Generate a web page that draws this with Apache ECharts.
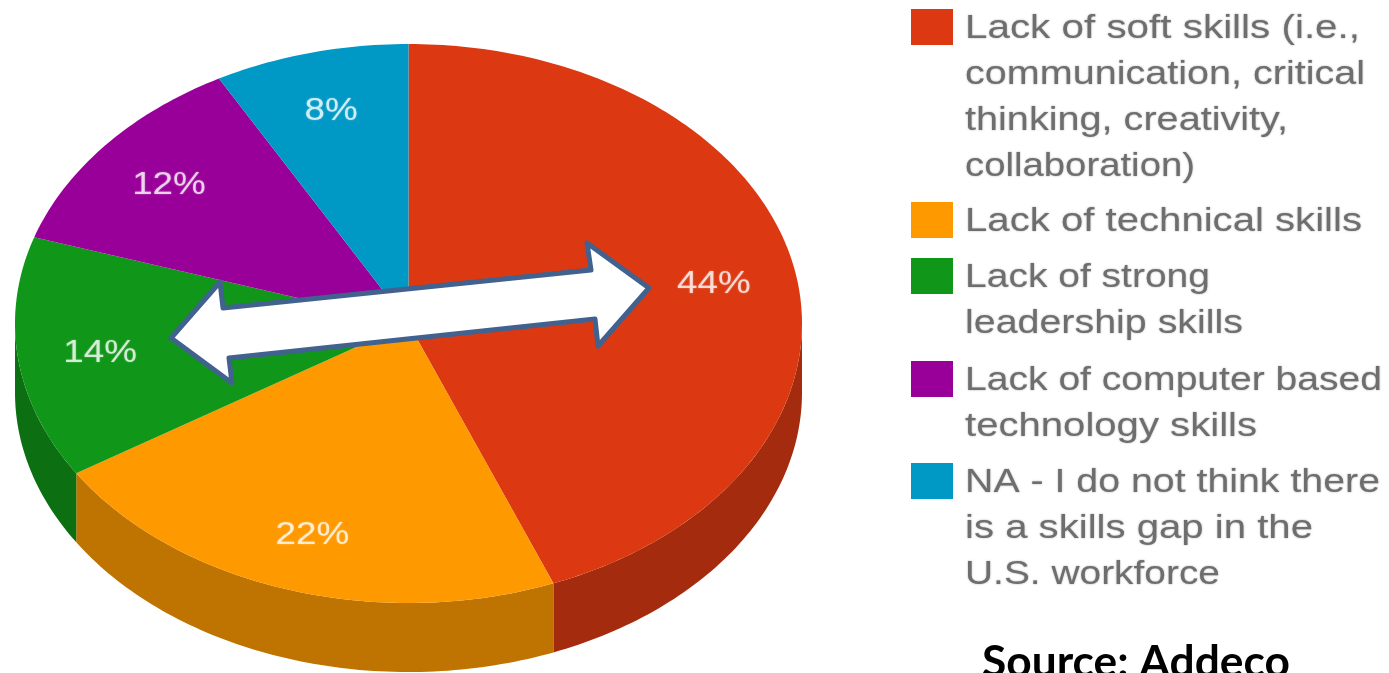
<!DOCTYPE html>
<html>
<head>
<meta charset="utf-8">
<title>Skills gap pie</title>
<style>
  html, body { margin: 0; padding: 0; background: #fff; overflow: hidden; }
  #chart { width: 1389px; height: 673px; }
</style>
<script src="https://cdn.jsdelivr.net/npm/echarts@6/dist/echarts.min.js"></script>
</head>
<body>
<div id="chart"></div>
<script>
const categories = [
  'Lack of soft skills (i.e.,\ncommunication, critical\nthinking, creativity,\ncollaboration)',
  'Lack of technical skills',
  'Lack of strong\nleadership skills',
  'Lack of computer based\ntechnology skills',
  'NA - I do not think there\nis a skills gap in the\nU.S. workforce'
];
const shares = [44, 22, 14, 12, 8];
const topColors = ['#dc3912', '#ff9900', '#109618', '#990099', '#0099c6'];
const sideColors = ['#a52b0e', '#bf7300', '#0c7012', '#730073', '#007395'];
const sourceNote = 'Source: Addeco';

const total = shares.reduce((a, b) => a + b, 0);
const depth = 0.247; // height of the rim, in y axis units
const deg = Math.PI / 180;

// clockwise from 12 o'clock, on the unit circle the axes stretch into an ellipse
function rim(from, to, api, drop) {
  const pts = [];
  const steps = Math.max(2, Math.ceil((to - from) / deg));
  for (let i = 0; i <= steps; i++) {
    const a = from + (to - from) * i / steps;
    pts.push(api.coord([Math.sin(a), Math.cos(a) - drop]));
  }
  return pts;
}

function renderSlice(params, api) {
  const i = params.dataIndex;
  const before = shares.slice(0, i).reduce((a, b) => a + b, 0);
  const start = before / total * 2 * Math.PI;
  const end = (before + api.value(0)) / total * 2 * Math.PI;
  const children = [];

  // only the front half of the rim is visible
  const sideFrom = Math.max(start, Math.PI / 2);
  const sideTo = Math.min(end, Math.PI * 1.5);
  if (sideTo > sideFrom) {
    children.push({
      type: 'polygon',
      shape: { points: rim(sideFrom, sideTo, api, 0).concat(rim(sideFrom, sideTo, api, depth).reverse()) },
      style: { fill: sideColors[i] }
    });
  }

  children.push({
    type: 'polygon',
    shape: { points: [api.coord([0, 0])].concat(rim(start, end, api, 0)) },
    style: { fill: topColors[i] }
  });

  const mid = (start + end) / 2;
  const at = api.coord([0.79 * Math.sin(mid), 0.79 * Math.cos(mid)]);
  children.push({
    type: 'text',
    x: at[0],
    y: at[1] + 2,
    scaleX: 1.15,
    style: {
      text: api.value(0) + '%',
      x: 0,
      y: 0,
      align: 'center',
      verticalAlign: 'middle',
      fill: '#fff',
      opacity: 0.75,
      font: '32px "Liberation Sans", Arial, sans-serif',
      textShadowColor: 'rgba(255,255,255,0.5)',
      textShadowBlur: 2
    }
  });
  return { type: 'group', children };
}

// legend is drawn by hand because the swatch sits on the first line of a wrapped name
const legendTops = [27, 220, 276, 379, 481];
// the source image is stretched unevenly, so each line is fitted to its own width
const lineWidths = [[395, 400, 323, 230], [397], [245, 278], [417, 292], [415, 348, 255]];
const legendFont = '34px "Liberation Sans", Arial, sans-serif';
const measure = document.createElement('canvas').getContext('2d');
measure.font = legendFont;

const legendGraphics = [];
categories.forEach((name, i) => {
  legendGraphics.push({
    type: 'rect',
    shape: { x: 911, y: legendTops[i] - 18, width: 42, height: 36 },
    style: { fill: topColors[i] }
  });
  name.split('\n').forEach((line, j) => {
    legendGraphics.push({
      type: 'text',
      x: 965,
      y: legendTops[i] + j * 46 + 2,
      scaleX: lineWidths[i][j] / measure.measureText(line).width,
      style: {
        text: line,
        x: 0,
        y: 0,
        verticalAlign: 'middle',
        fill: '#6e6e6e',
        font: legendFont,
        textShadowColor: 'rgba(110,110,110,0.6)',
        textShadowBlur: 2
      }
    });
  });
});

const chart = echarts.init(document.getElementById('chart'));
chart.setOption({
  animation: false,
  backgroundColor: '#fff',
  grid: { left: 15, top: 44, width: 787, height: 559 },
  xAxis: { type: 'value', min: -1, max: 1, show: false },
  yAxis: { type: 'value', min: -1, max: 1, show: false },
  series: [{
    type: 'custom',
    coordinateSystem: 'cartesian2d',
    renderItem: renderSlice,
    data: shares.map(v => [v]),
    encode: { x: -1, y: -1 },
    clip: false,
    silent: true
  }],
  graphic: legendGraphics.concat([
    {
      type: 'polygon',
      z: 10,
      shape: {
        points: [
          [171, 338], [220, 282], [223, 308], [591, 270], [587, 243],
          [649, 288], [598, 346], [595, 319], [229, 358], [232, 383]
        ]
      },
      style: { fill: '#fff', stroke: '#41628f', lineWidth: 5, lineJoin: 'round' }
    },
    {
      type: 'text',
      x: 982,
      y: 685,
      scaleX: 1.03,
      style: {
        text: sourceNote,
        x: 0,
        y: 0,
        verticalAlign: 'bottom',
        fill: '#000',
        font: 'bold 43px Lato, "Open Sans", sans-serif'
      }
    }
  ])
});
window.addEventListener('resize', () => chart.resize());
</script>
</body>
</html>
